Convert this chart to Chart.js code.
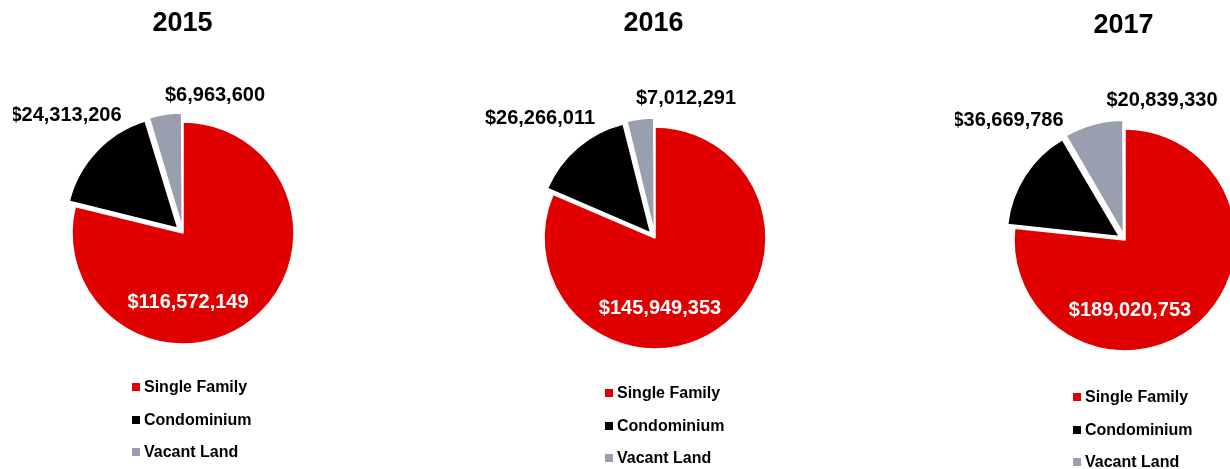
<!DOCTYPE html>
<html>
<head>
<meta charset="utf-8">
<script src="https://cdn.jsdelivr.net/npm/chart.js@4.4.1/dist/chart.umd.min.js"></script>
<style>
    html, body {
        margin: 0;
        padding: 0;
        width: 1230px;
        height: 469px;
        overflow: hidden;
        background: #FFFFFF;
        font-family: "Liberation Sans", Arial, sans-serif;
    }
    .pie-wrap {
        position: absolute;
        top: 0;
        width: 340px;
        height: 469px;
    }
    .legend {
        position: absolute;
        font-weight: bold;
        font-size: 16px;
        color: #000;
    }
    .legend-row {
        position: absolute;
        white-space: nowrap;
        line-height: 18px;
        left: 0;
    }
    .legend-box {
        display: inline-block;
        width: 8px;
        height: 8px;
        margin-right: 4px;
        vertical-align: 1px;
    }
</style>
</head>
<body>
<div id="charts"></div>
<script>
// Chart data
const years = ['2015', '2016', '2017'];
const categories = ['Single Family', 'Condominium', 'Vacant Land'];
const singleFamily = [116572149, 145949353, 189020753];
const condominium = [24313206, 26266011, 36669786];
const vacantLand = [6963600, 7012291, 20839330];

const sliceColors = ['#E00000', '#000000', '#9A9FB0'];
const labelColors = ['#FFFFFF', '#000000', '#000000'];
// how far (px) each slice is pulled out of the pie
const explodePx = [0, 8, 9];

// Layout of each pie (centre, title height, label placement relative to centre)
const layouts = [
    { cx: 183, cy: 233, titleY: 24, titleX: -0.5, labels: [[5, 69], [-117, -118], [32, -138]], legendX: -51, legendY: 387 },
    { cx: 655, cy: 238, titleY: 24, titleX: -1.5, labels: [[5, 70], [-115, -120], [31, -140]], legendX: -50, legendY: 393 },
    { cx: 1125, cy: 240, titleY: 26, titleX: -1.5, labels: [[5, 70], [-117, -120], [37, -140]], legendX: -52, legendY: 397 }
];
const canvasWidth = 340;
const canvasHeight = 469;

function formatMoney(v) {
    return '$' + v.toLocaleString('en-US');
}

// Chart.js v4 arcs move by offset/4 * (2 - sin(circumference)), so turn pixels into offset
function sliceOffsets(values) {
    const total = values.reduce((a, b) => a + b, 0);
    return values.map((v, i) => {
        const circ = (v / total) * Math.PI * 2;
        const factor = (2 - Math.sin(Math.min(Math.PI, circ))) / 4;
        return explodePx[i] / factor;
    });
}

// Plugin for title and value labels
const pieTextPlugin = {
    id: 'pieText',
    afterDraw(chart) {
        const cfg = chart.options.plugins.pieText;
        const arc = chart.getDatasetMeta(0).data[0];
        const cx = arc.x;
        const cy = arc.y;
        const ctx = chart.ctx;
        ctx.save();
        ctx.textAlign = 'center';
        ctx.textBaseline = 'middle';

        // Title
        ctx.fillStyle = '#000000';
        ctx.font = 'bold 27px "Liberation Sans", Arial, sans-serif';
        ctx.fillText(cfg.title, cx + cfg.titleX, cfg.titleY);

        // Value labels
        ctx.font = 'bold 20px "Liberation Sans", Arial, sans-serif';
        const values = chart.data.datasets[0].data;
        values.forEach((v, i) => {
            ctx.fillStyle = labelColors[i];
            ctx.fillText(formatMoney(v), cx + cfg.labels[i][0], cy + cfg.labels[i][1]);
        });
        ctx.restore();
    }
};

function buildLegend(container, layout) {
    const legend = document.createElement('div');
    legend.className = 'legend';
    legend.style.left = (layout.cx + layout.legendX) + 'px';
    legend.style.top = (layout.legendY - 9) + 'px';
    categories.forEach((name, i) => {
        const row = document.createElement('div');
        row.className = 'legend-row';
        row.style.top = (i * 32.5) + 'px';
        row.innerHTML = '<span class="legend-box" style="background:' + sliceColors[i] + '"></span>' + name;
        legend.appendChild(row);
    });
    container.appendChild(legend);
}

function renderPie(index) {
    const layout = layouts[index];
    const container = document.getElementById('charts');

    const wrap = document.createElement('div');
    wrap.className = 'pie-wrap';
    wrap.style.left = (layout.cx - canvasWidth / 2) + 'px';
    const canvas = document.createElement('canvas');
    canvas.width = canvasWidth;
    canvas.height = canvasHeight;
    wrap.appendChild(canvas);
    container.appendChild(wrap);

    // Put the chart area centre on the pie centre
    const extra = 2 * layout.cy - canvasHeight;
    const padTop = extra > 0 ? extra : 0;
    const padBottom = extra < 0 ? -extra : 0;

    const values = [singleFamily[index], condominium[index], vacantLand[index]];

    new Chart(canvas, {
        type: 'pie',
        data: {
            labels: categories,
            datasets: [{
                data: values,
                backgroundColor: sliceColors,
                borderColor: '#FFFFFF',
                borderWidth: 1.5,
                offset: sliceOffsets(values)
            }]
        },
        options: {
            responsive: false,
            animation: false,
            radius: 111,
            layout: {
                padding: { top: padTop, bottom: padBottom, left: 0, right: 0 }
            },
            plugins: {
                legend: { display: false },
                tooltip: { enabled: false },
                pieText: {
                    title: years[index],
                    titleX: layout.titleX,
                    titleY: layout.titleY,
                    labels: layout.labels
                }
            }
        },
        plugins: [pieTextPlugin]
    });

    buildLegend(container, layout);
}

years.forEach((y, i) => renderPie(i));
</script>
</body>
</html>
